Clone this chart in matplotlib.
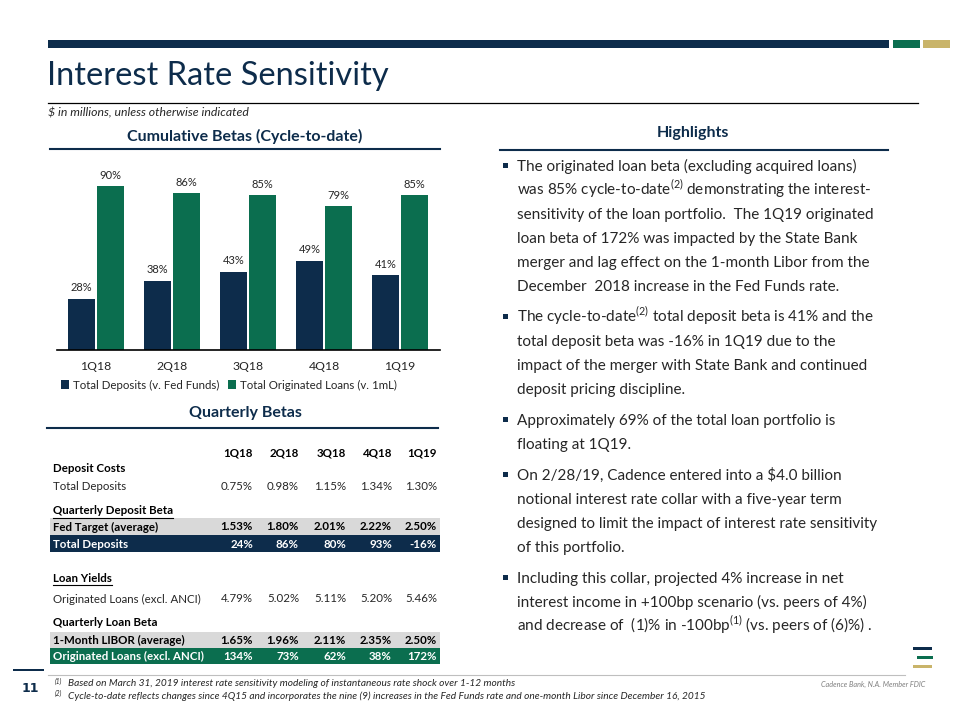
import matplotlib.pyplot as plt
from matplotlib.patches import Rectangle
from matplotlib.lines import Line2D

plt.rcParams['font.family'] = ['Lato', 'DejaVu Sans']

NAVY = "#0d2c4b"
GREEN = "#0b6e4f"
GOLD = "#c9b46a"
GREY_BG = "#d9d9d9"
TXT = "#262626"

# cumulative betas chart
quarters = ["1Q18", "2Q18", "3Q18", "4Q18", "1Q19"]
deposit_betas = [28, 38, 43, 49, 41]
loan_betas = [90, 86, 85, 79, 85]

# quarterly betas table
tbl_cols = ["1Q18", "2Q18", "3Q18", "4Q18", "1Q19"]
deposit_cost = ["0.75%", "0.98%", "1.15%", "1.34%", "1.30%"]
fed_target = ["1.53%", "1.80%", "2.01%", "2.22%", "2.50%"]
deposit_beta = ["24%", "86%", "80%", "93%", "-16%"]
loan_yield = ["4.79%", "5.02%", "5.11%", "5.20%", "5.46%"]
libor = ["1.65%", "1.96%", "2.11%", "2.35%", "2.50%"]
loan_beta = ["134%", "73%", "62%", "38%", "172%"]

highlights = [
    ["The originated loan beta (excluding acquired loans)",
     r"was 85% cycle-to-date$^{\mathregular{(2)}}$ demonstrating the interest-",
     "sensitivity of the loan portfolio.  The 1Q19 originated",
     "loan beta of 172% was impacted by the State Bank",
     "merger and lag effect on the 1-month Libor from the",
     "December  2018 increase in the Fed Funds rate."],
    [r"The cycle-to-date$^{\mathregular{(2)}}$ total deposit beta is 41% and the",
     "total deposit beta was -16% in 1Q19 due to the",
     "impact of the merger with State Bank and continued",
     "deposit pricing discipline."],
    ["Approximately 69% of the total loan portfolio is",
     "floating at 1Q19."],
    [r"On 2/28/19, Cadence entered into a \$4.0 billion",
     "notional interest rate collar with a five-year term",
     "designed to limit the impact of interest rate sensitivity",
     "of this portfolio."],
    ["Including this collar, projected 4% increase in net",
     "interest income in +100bp scenario (vs. peers of 4%)",
     r"and decrease of  (1)% in -100bp$^{\mathregular{(1)}}$ (vs. peers of (6)%) ."],
]

footnotes = [
    "Based on March 31, 2019 interest rate sensitivity modeling of instantaneous rate shock over 1-12 months",
    "Cycle-to-date reflects changes since 4Q15 and incorporates the nine (9) increases in the Fed Funds rate and one-month Libor since December 16, 2015",
]

W, H = 960, 720
fig = plt.figure(figsize=(9.6, 7.2), dpi=100)


def fx(x):
    return x / W


def fy(y):
    return 1 - y / H


def box(x0, y0, x1, y1, color):
    fig.add_artist(Rectangle((fx(x0), fy(y1)), fx(x1) - fx(x0), fy(y0) - fy(y1),
                             transform=fig.transFigure, color=color, lw=0))


def hline(x0, x1, y, color, lw=1.0):
    fig.add_artist(Line2D([fx(x0), fx(x1)], [fy(y), fy(y)], transform=fig.transFigure,
                          color=color, lw=lw))


# header
box(48, 40, 889, 48, NAVY)
box(893, 40, 920, 48, GREEN)
box(923, 40, 950, 48, GOLD)
fig.text(fx(47), fy(76), "Interest Rate Sensitivity", fontsize=23.5, color=NAVY, va="center")
hline(48, 918, 103, "black", 0.9)
fig.text(fx(48), fy(113), r"\$ in millions, unless otherwise indicated", fontsize=8.8,
         style="italic", color=TXT, va="center")

# section headers
fig.text(fx(245), fy(136), "Cumulative Betas (Cycle-to-date)", fontsize=11.5, weight="bold",
         color=NAVY, ha="center", va="center")
hline(50, 440, 149, NAVY, 1.5)
fig.text(fx(693), fy(133), "Highlights", fontsize=11.5, weight="bold", color=NAVY,
         ha="center", va="center")
hline(500, 888, 150, NAVY, 1.5)
fig.text(fx(245), fy(413), "Quarterly Betas", fontsize=11.5, weight="bold", color=NAVY,
         ha="center", va="center")
hline(47, 438, 428, NAVY, 1.5)

# bar chart
ax = fig.add_axes([fx(57), fy(350), fx(440) - fx(57), fy(168) - fy(350)])
xs = list(range(len(quarters)))
bw = 0.355
off = 0.19
b1 = ax.bar([x - off for x in xs], deposit_betas, bw, color=NAVY,
            label="Total Deposits (v. Fed Funds)")
b2 = ax.bar([x + off for x in xs], loan_betas, bw, color=GREEN,
            label="Total Originated Loans (v. 1mL)")
for bars, vals in ((b1, deposit_betas), (b2, loan_betas)):
    for r, v in zip(bars, vals):
        ax.annotate(f"{v}%", (r.get_x() + r.get_width() / 2, v), xytext=(0, 4),
                    textcoords="offset points", ha="center", va="bottom",
                    fontsize=8, color=TXT, annotation_clip=False)
ax.set_xlim(-0.513, 4.526)
ax.set_ylim(0, 100)
ax.set_xticks(xs)
ax.set_xticklabels(quarters, fontsize=8.8, color=TXT)
ax.tick_params(axis="x", length=0, pad=8)
ax.set_yticks([])
for s in ("top", "right", "left"):
    ax.spines[s].set_visible(False)
ax.spines["bottom"].set_color("black")
ax.spines["bottom"].set_linewidth(1.2)
ax.patch.set_alpha(0)
fig.legend(handles=[b1, b2], loc="center", bbox_to_anchor=(fx(229), fy(385)), ncol=2,
           frameon=False, fontsize=8.3, handlelength=0.7, handleheight=0.7,
           handletextpad=0.3, columnspacing=0.8, labelcolor=TXT)

# table
col_x = [253, 299, 346, 392, 437]
lab_x = 53
tfs = 8.3
box(50, 518, 440, 535, GREY_BG)
box(50, 535, 440, 552, NAVY)
box(50, 632, 440, 648, GREY_BG)
box(50, 648, 440, 664, GREEN)

for cx, c in zip(col_x, tbl_cols):
    fig.text(fx(cx), fy(453), c, fontsize=tfs, weight="bold", color="black", ha="right", va="center")

underlined = []
rows = [
    (469, "Deposit Costs", None, "bold", "black", False),
    (486, "Total Deposits", deposit_cost, "normal", TXT, False),
    (511, "Quarterly Deposit Beta", None, "bold", "black", True),
    (527, "Fed Target (average)", fed_target, "bold", "black", False),
    (544, "Total Deposits", deposit_beta, "bold", "white", False),
    (578, "Loan Yields", None, "bold", "black", True),
    (599, "Originated Loans (excl. ANCI)", loan_yield, "normal", TXT, False),
    (623, "Quarterly Loan Beta", None, "bold", "black", False),
    (640, "1-Month LIBOR (average)", libor, "bold", "black", False),
    (656, "Originated Loans (excl. ANCI)", loan_beta, "bold", "white", False),
]
for y, lab, vals, wt, col, ul in rows:
    t = fig.text(fx(lab_x), fy(y), lab, fontsize=tfs, weight=wt, color=col, va="center")
    if ul:
        underlined.append((t, y))
    if vals:
        for cx, v in zip(col_x, vals):
            fig.text(fx(cx), fy(y), v, fontsize=tfs, weight=wt, color=col, ha="right", va="center")

fig.canvas.draw()
for t, y in underlined:
    bb = t.get_window_extent()
    hline(lab_x, lab_x + bb.width, y + 7, "black", 0.8)

# highlights
y = 166
for para in highlights:
    box(503, y - 3, 508, y + 2, NAVY)
    for line in para:
        fig.text(fx(517), fy(y + 5), line, fontsize=11, color=TXT, va="baseline")
        y += 24
    y += 7

# footer
box(13, 669, 44, 671, NAVY)
hline(48, 905, 675, "#bfbfbf", 0.8)
fig.text(fx(30), fy(688), "11", fontsize=9, weight="bold", color=NAVY, ha="center", va="center",
         family="DejaVu Sans")
for i, fn in enumerate(footnotes):
    fy0 = 684 + 12.5 * i
    fig.text(fx(55), fy(fy0 - 3), f"({i + 1})", fontsize=4.8, style="italic", color=TXT, va="center")
    fig.text(fx(68), fy(fy0), fn, fontsize=7.3, style="italic", color=TXT, va="center")
fig.text(fx(925), fy(684), "Cadence Bank, N.A. Member FDIC", fontsize=5.2, style="italic",
         color="#7f7f7f", ha="right", va="center")

# logo
box(913, 647, 932, 650, NAVY)
box(917, 656, 933, 659, GREEN)
box(913, 665, 932, 668, GOLD)

fig.savefig("out.png", dpi=100)
